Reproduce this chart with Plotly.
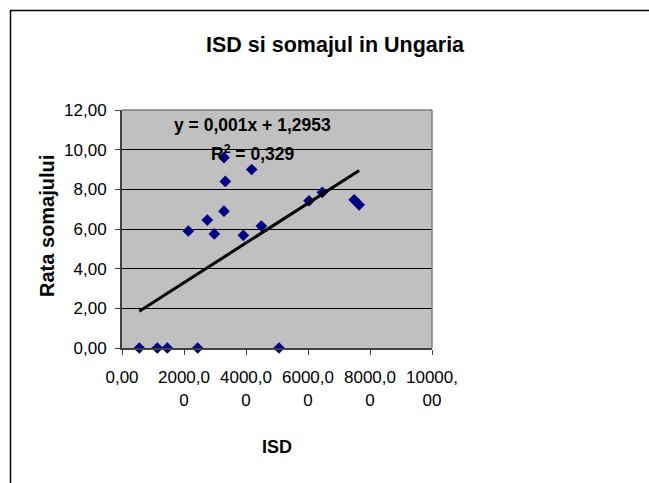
import plotly.graph_objects as go

# ---- data ----
ISD = [558, 1139, 1461, 2441, 5065,
       2139, 2752, 2978, 3290, 3333, 3290, 4183, 3914, 4495,
       6032, 6462, 7490, 7650]
RATA = [0.0, 0.0, 0.0, 0.0, 0.0,
        5.90, 6.45, 5.75, 9.60, 8.40, 6.90, 9.00, 5.68, 6.15,
        7.42, 7.85, 7.47, 7.22]
TREND_SLOPE = 0.001
TREND_INTERCEPT = 1.2953
R2_TEXT = "0,329"

X_TICKS = [0, 2000, 4000, 6000, 8000, 10000]
X_TICK_LABELS = ["0,00", "2000,0<br>0", "4000,0<br>0", "6000,0<br>0", "8000,0<br>0", "10000,<br>00"]
Y_TICKS = [0, 2, 4, 6, 8, 10, 12]
Y_TICK_LABELS = ["0,00", "2,00", "4,00", "6,00", "8,00", "10,00", "12,00"]

TITLE = "ISD si somajul in Ungaria"
X_TITLE = "ISD"
Y_TITLE = "Rata somajului"

# ---- layout geometry (pixels) ----
W, H = 649, 483
L, R, T, B = 122, 432, 110, 348
PW, PH = R - L, B - T

def px(x):
    return (x - L) / PW

def py(y):
    return (B - y) / PH

FONT = "Liberation Sans, Arial, sans-serif"
TICK_SIZE = 17

x_min, x_max = min(ISD), max(ISD)
trend_x = [x_min, x_max]
trend_y = [TREND_SLOPE * v + TREND_INTERCEPT for v in trend_x]

fig = go.Figure()
fig.add_trace(go.Scatter(
    x=ISD, y=RATA, mode="markers",
    marker=dict(symbol="diamond", size=9, color="#000080", line=dict(width=0)),
    showlegend=False, cliponaxis=False,
))
fig.add_trace(go.Scatter(
    x=trend_x, y=trend_y, mode="lines",
    line=dict(color="black", width=3),
    showlegend=False,
))

fig.update_layout(
    width=W, height=H,
    margin=dict(l=L, r=W - R, t=T, b=H - B, pad=0, autoexpand=False),
    paper_bgcolor="white", plot_bgcolor="#c0c0c0",
    font=dict(family=FONT, color="black", size=TICK_SIZE),
    showlegend=False,
    xaxis=dict(
        range=[0, 10000], tickvals=X_TICKS, ticktext=X_TICK_LABELS,
        tickangle=0, automargin=False,
        showgrid=False, zeroline=False,
        showline=True, linecolor="#404040", linewidth=2,
        ticks="outside", ticklen=5, tickcolor="#404040", tickwidth=1,
        tickfont=dict(family=FONT, size=TICK_SIZE),
        ticklabelstandoff=8,
    ),
    yaxis=dict(
        range=[0, 12], tickvals=Y_TICKS, ticktext=Y_TICK_LABELS,
        automargin=False,
        showgrid=True, gridcolor="black", gridwidth=1, zeroline=False,
        showline=True, linecolor="#404040", linewidth=2,
        ticks="outside", ticklen=5, tickcolor="#404040", tickwidth=1,
        tickfont=dict(family=FONT, size=TICK_SIZE),
        ticklabelstandoff=5,
    ),
    shapes=[
        dict(type="line", xref="paper", yref="paper", x0=0, x1=1, y0=1, y1=1,
             line=dict(color="#808080", width=1.5)),
        dict(type="line", xref="paper", yref="paper", x0=1, x1=1, y0=0, y1=1,
             line=dict(color="#808080", width=1.5)),
        dict(type="line", xref="paper", yref="paper", x0=px(10), x1=px(W + 5),
             y0=py(10.5), y1=py(10.5), line=dict(color="black", width=1.5)),
        dict(type="line", xref="paper", yref="paper", x0=px(10.5), x1=px(10.5),
             y0=py(10), y1=py(H + 5), line=dict(color="black", width=1.5)),
    ],
    annotations=[
        dict(text="<b>" + TITLE + "</b>", xref="paper", yref="paper",
             x=px(335), y=py(45), showarrow=False,
             font=dict(family=FONT, size=21.5), xanchor="center", yanchor="middle"),
        dict(text="<b>" + X_TITLE + "</b>", xref="paper", yref="paper",
             x=px(277), y=py(447), showarrow=False,
             font=dict(family=FONT, size=18), xanchor="center", yanchor="middle"),
        dict(text="<b>" + Y_TITLE + "</b>", xref="paper", yref="paper",
             x=px(47), y=py(226), showarrow=False, textangle=-90,
             font=dict(family=FONT, size=20), xanchor="center", yanchor="middle"),
        dict(text="<b>y = 0,001x + 1,2953</b>", xref="paper", yref="paper",
             x=px(252), y=py(125), showarrow=False,
             font=dict(family=FONT, size=17.5), xanchor="center", yanchor="middle"),
        dict(text="<b>R<sup>2</sup> = " + R2_TEXT + "</b>", xref="paper", yref="paper",
             x=px(252), y=py(153), showarrow=False,
             font=dict(family=FONT, size=17.5), xanchor="center", yanchor="middle"),
    ],
)

fig.write_html(
    "out.html",
    config={"displayModeBar": False},
    post_script="document.body.style.margin='0px';document.body.style.overflow='hidden';",
)
